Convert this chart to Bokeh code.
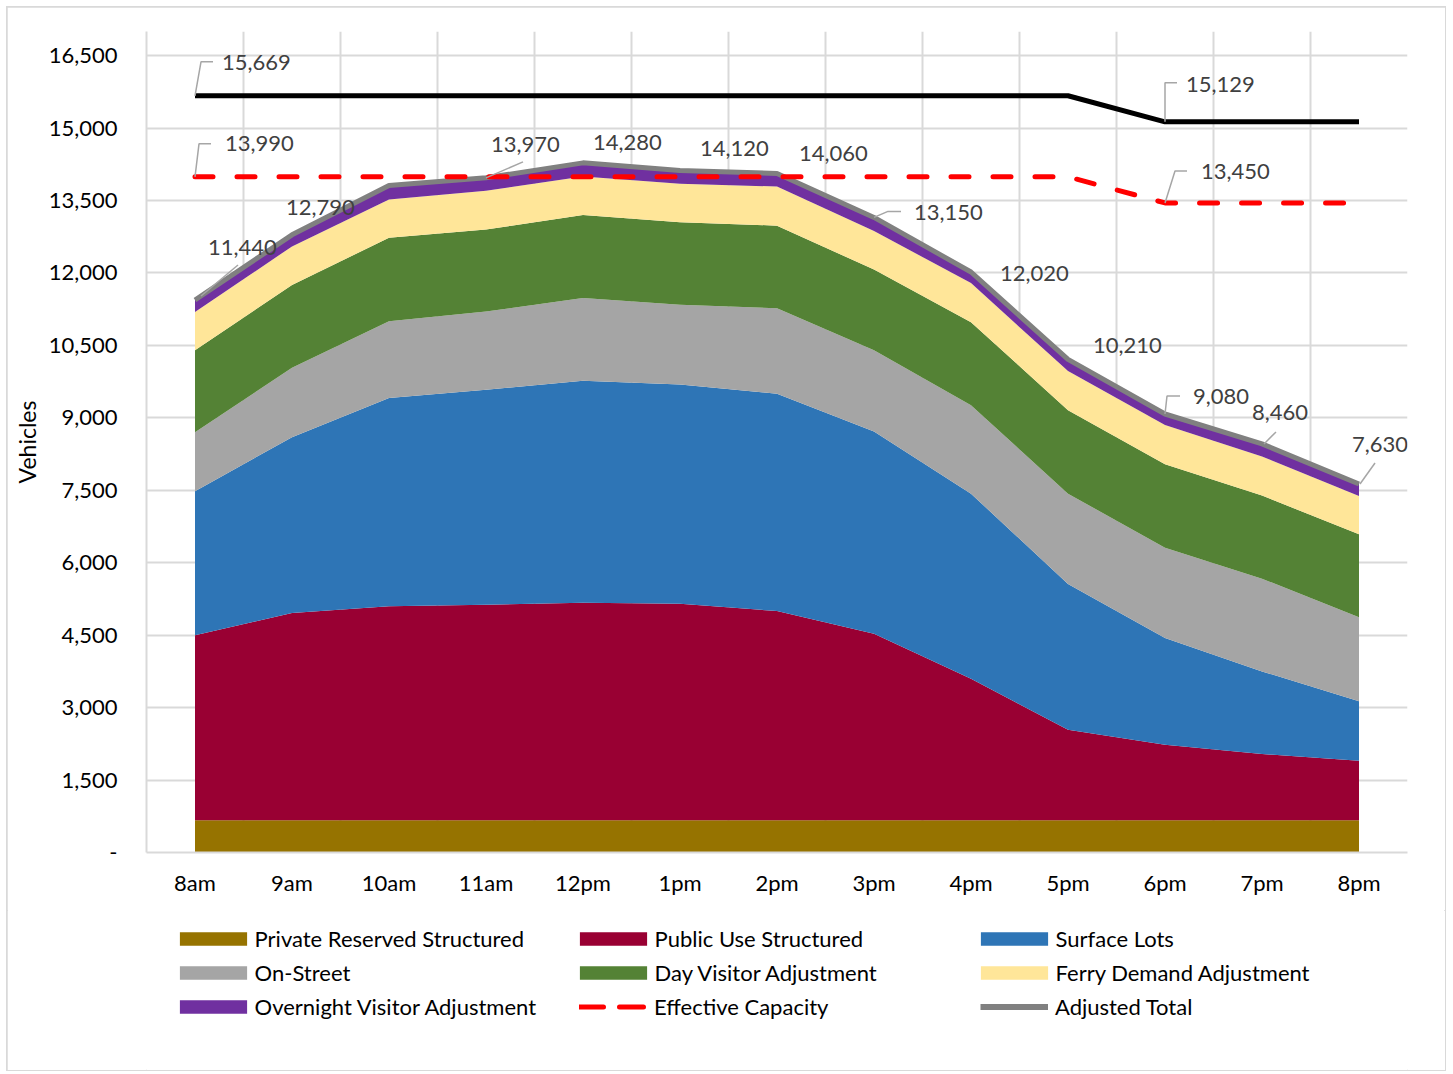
from bokeh.plotting import figure
from bokeh.layouts import column
from bokeh.models import (FixedTicker, NumeralTickFormatter, Legend, LegendItem,
                          ColumnDataSource, Range1d)
from bokeh.core.properties import value
from bokeh.embed import file_html
from bokeh.resources import INLINE

# ---------------- data ----------------
hours = ["8am", "9am", "10am", "11am", "12pm", "1pm", "2pm", "3pm", "4pm", "5pm", "6pm", "7pm", "8pm"]
private_reserved = [670, 670, 670, 670, 670, 670, 670, 670, 670, 670, 670, 670, 670]
public_use = [3830, 4290, 4430, 4460, 4500, 4480, 4330, 3860, 2930, 1870, 1560, 1370, 1230]
surface_lots = [2980, 3640, 4310, 4450, 4600, 4540, 4500, 4190, 3830, 3020, 2210, 1710, 1230]
on_street = [1220, 1440, 1590, 1620, 1710, 1650, 1770, 1680, 1830, 1870, 1870, 1920, 1740]
day_visitor = [1700, 1710, 1730, 1700, 1720, 1710, 1710, 1670, 1720, 1730, 1730, 1720, 1720]
ferry_demand = [790, 800, 790, 800, 800, 800, 810, 800, 810, 810, 810, 810, 790]
overnight_visitor = [250, 240, 290, 270, 280, 270, 270, 280, 230, 240, 230, 260, 250]
adjusted_total = [11440, 12790, 13810, 13970, 14280, 14120, 14060, 13150, 12020, 10210, 9080, 8460, 7630]
effective_capacity = [13990, 13990, 13990, 13990, 13990, 13990, 13990, 13990, 13990, 13990, 13450, 13450, 13450]
total_capacity = [15669, 15669, 15669, 15669, 15669, 15669, 15669, 15669, 15669, 15669, 15129, 15129, 15129]
y_ticks = [0, 1500, 3000, 4500, 6000, 7500, 9000, 10500, 12000, 13500, 15000, 16500]

series_names = ["Private Reserved Structured", "Public Use Structured", "Surface Lots", "On-Street",
                "Day Visitor Adjustment", "Ferry Demand Adjustment", "Overnight Visitor Adjustment"]
series_values = [private_reserved, public_use, surface_lots, on_street, day_visitor, ferry_demand,
                 overnight_visitor]
series_colors = ["#967300", "#990033", "#2E75B6", "#A5A5A5", "#548235", "#FFE699", "#7030A0"]

FONT = "Lato"
TXT = "#404040"
TOTAL_COLOR = "#808080"
EFF_COLOR = "#FF0000"

# ---------------- main figure ----------------
W, H1, H2 = 1438, 903, 160
ML, MR, MT, MB = 139, 38, 24, 58
YMAX = 17000
p = figure(width=W, height=H1, output_backend="svg", toolbar_location=None,
           x_range=Range1d(-0.5, len(hours) - 0.5), y_range=Range1d(0, YMAX),
           min_border_left=ML, min_border_right=MR, min_border_top=MT, min_border_bottom=MB)
p.outline_line_color = None
p.background_fill_color = "white"
p.border_fill_color = "white"

frame_w = W - ML - MR
frame_h = H1 - MT - MB
PXX = frame_w / len(hours)      # px per category
PXY = frame_h / YMAX            # px per vehicle

xs = list(range(len(hours)))
src = {"x": xs}
for name, vals in zip(series_names, series_values):
    src[name] = vals
source = ColumnDataSource(src)

p.varea_stack(stackers=series_names, x="x", color=series_colors, source=source)

p.line(xs, adjusted_total, line_color=TOTAL_COLOR, line_width=5, line_join="round")
p.line(xs, effective_capacity, line_color=EFF_COLOR, line_width=5, line_dash="18 24", line_cap="round")
p.line(xs, total_capacity, line_color="#000000", line_width=5)

# axes / grid
p.yaxis.ticker = FixedTicker(ticks=y_ticks)
p.yaxis.formatter = NumeralTickFormatter(format="0,0")
p.yaxis.major_label_overrides = {0: "-"}
p.yaxis.axis_label = "Vehicles"
p.xaxis.ticker = FixedTicker(ticks=xs)
p.xaxis.major_label_overrides = {i: h for i, h in enumerate(hours)}
for ax in (p.xaxis[0], p.yaxis[0]):
    ax.major_tick_line_color = None
    ax.minor_tick_line_color = None
    ax.major_tick_out = 0
    ax.major_tick_in = 0
    ax.axis_line_color = "#d9d9d9"
    ax.axis_line_width = 2
    ax.major_label_text_font = FONT
    ax.major_label_text_font_size = "22px"
    ax.major_label_text_color = "#000000"
    ax.axis_label_text_font = FONT
    ax.axis_label_text_font_size = "23px"
    ax.axis_label_text_font_style = "normal"
    ax.axis_label_text_color = "#000000"
p.yaxis.major_label_standoff = 29
p.xaxis.major_label_standoff = 16
p.yaxis.axis_label_standoff = 5

p.ygrid.ticker = FixedTicker(ticks=y_ticks[1:])
p.ygrid.grid_line_color = "#d9d9d9"
p.ygrid.grid_line_width = 2
p.xgrid.ticker = FixedTicker(ticks=[i + 0.5 for i in xs])
p.xgrid.grid_line_color = "#d9d9d9"
p.xgrid.grid_line_width = 2
p.xgrid.level = "underlay"
p.ygrid.level = "underlay"

# data labels: (index, value, label offset px (dx to left edge, dy to middle; screen y down), leader px)
label_specs = [
    (0, total_capacity[0], (27, -33), [(0, 0), (6, -34), (18, -34)]),
    (10, total_capacity[10], (21, -37), [(0, 0), (0, -39), (12, -39)]),
    (0, effective_capacity[0], (30, -33), [(0, 0), (4, -33), (16, -33)]),
    (10, effective_capacity[10], (36, -31), [(0, 0), (10, -32), (22, -32)]),
]
total_offsets = {0: ((13, -53), [(6, -4), (43, -35)]),
                 1: ((-6, -27), None),
                 3: ((5, -33), [(0, 0), (37, -16)]),
                 4: ((10, -20), None),
                 5: ((20, -22), None),
                 6: ((22, -20), None),
                 7: ((40, -5), [(0, 0), (14, -6), (27, -6)]),
                 8: ((29, 1), None),
                 9: ((25, -14), None),
                 10: ((28, -17), [(0, 0), (2, -18), (15, -18)]),
                 11: ((-10, -31), [(2, 0), (14, -12)]),
                 12: ((-7, -40), [(1, 0), (16, -21)])}
for i, (off, path) in total_offsets.items():
    label_specs.append((i, adjusted_total[i], off, path))

lx, ly, lt = [], [], []
lead_xs, lead_ys = [], []
for i, v, (dx, dy), path in label_specs:
    lx.append(i + dx / PXX)
    ly.append(v - dy / PXY)
    lt.append(f"{v:,}")
    if path:
        lead_xs.append([i + a / PXX for a, b in path])
        lead_ys.append([v - b / PXY for a, b in path])

p.multi_line(lead_xs, lead_ys, line_color="#A6A6A6", line_width=1.5)
p.text(lx, ly, text=lt, text_font=value(FONT), text_font_size="22px", text_color=TXT,
       text_align="left", text_baseline="middle")

# ---------------- legend figure (frame aligned with the chart's frame) ----------------
lf = figure(width=W, height=H2, output_backend="svg", toolbar_location=None,
            x_range=Range1d(0, 1), y_range=Range1d(0, 1), min_border=0)
lf.axis.visible = False
lf.grid.visible = False
lf.outline_line_color = None
lf.border_fill_color = "white"

# off-range placeholder renderers, only used to draw legend swatches
area_items = {}
for name, col in zip(series_names, series_colors):
    r = lf.varea(x=[-5, -4], y1=[-5, -5], y2=[-4, -4], fill_color=col)
    area_items[name] = LegendItem(label=name, renderers=[r])
r_eff = lf.line(x=[-5, -4], y=[-5, -5], line_color=EFF_COLOR, line_width=5, line_dash="24 16",
                line_cap="round")
r_tot = lf.line(x=[-5, -4], y=[-5, -5], line_color=TOTAL_COLOR, line_width=6)
line_items = {"Effective Capacity": LegendItem(label="Effective Capacity", renderers=[r_eff]),
              "Adjusted Total": LegendItem(label="Adjusted Total", renderers=[r_tot])}

common = dict(orientation="vertical", spacing=7, padding=0, margin=0, border_line_color=None,
              background_fill_alpha=0, label_text_font=FONT, label_text_font_size="22px",
              label_text_color="#000000")
ROW = 34
BOTTOM = 50
legend_groups = [
    (24.6, BOTTOM, [area_items[n] for n in ["Private Reserved Structured", "On-Street",
                                            "Overnight Visitor Adjustment"]], True),
    (424.6, BOTTOM + ROW, [area_items[n] for n in ["Public Use Structured", "Day Visitor Adjustment"]], True),
    (825.6, BOTTOM + ROW, [area_items[n] for n in ["Surface Lots", "Ferry Demand Adjustment"]], True),
    (433, BOTTOM, [line_items["Effective Capacity"]], False),
    (834, BOTTOM, [line_items["Adjusted Total"]], False),
]
for cx, vy, its, is_area in legend_groups:
    if is_area:
        leg = Legend(items=its, location=(cx, vy), glyph_width=84, glyph_height=17, label_standoff=0,
                     **common)
    else:
        leg = Legend(items=its, location=(cx, vy), glyph_width=68, glyph_height=17, label_standoff=7,
                     **common)
    lf.add_layout(leg, "center")

layout = column(p, lf, spacing=0)
layout.styles = {"position": "relative", "left": "7px", "top": "7px",
                 "outline": "2px solid #d9d9d9", "outline-offset": "-1px"}

with open("out.html", "w") as f:
    f.write(file_html(layout, INLINE))
